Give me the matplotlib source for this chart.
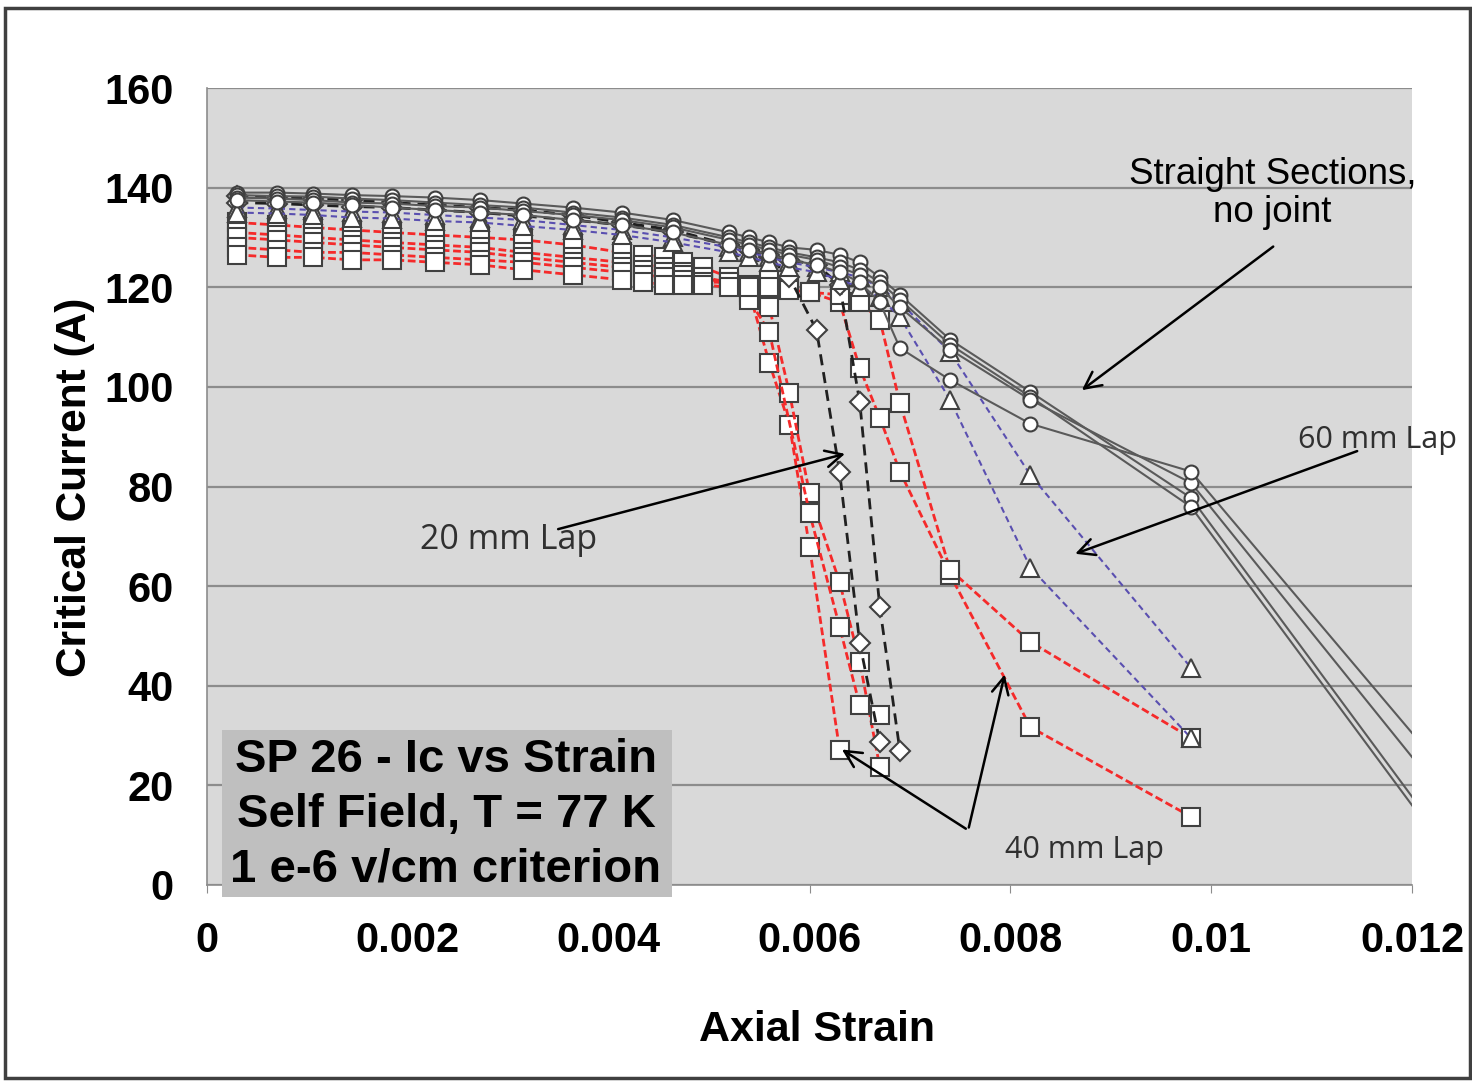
import numpy as np
import matplotlib.pyplot as plt
from matplotlib.patches import Rectangle

plt.rcParams['font.family'] = ['Liberation Sans', 'DejaVu Sans']

# strain grids (axial strain) for each group of samples
strain_straight = [0.0003, 0.0007, 0.00106, 0.00144, 0.00184, 0.00227, 0.00272, 0.00315,
                   0.00364, 0.00413, 0.00464, 0.0052, 0.0054, 0.0056, 0.0058, 0.00607,
                   0.0063, 0.0065, 0.0067, 0.0069, 0.0074, 0.0082, 0.0098, 0.0125]
strain_lap = [0.0003, 0.0007, 0.00106, 0.00144, 0.00184, 0.00227, 0.00272, 0.00315,
              0.00364, 0.00413, 0.00434, 0.00455, 0.00474, 0.00494, 0.0052, 0.0054,
              0.0056, 0.0058, 0.0060, 0.0063, 0.0065, 0.0067, 0.0069, 0.0074, 0.0082, 0.0098]
nan = np.nan

# straight sections, no joint (critical current, A)
straight_1 = [139, 139, 138.8, 138.5, 138.3, 138, 137.5, 136.8, 136, 135, 133.5, 131, 130, 129,
              128, 127.5, 126.5, 125, 122, 118.5, 109.5, 99, 77.7, 4.1]
straight_2 = [138.5, 138.3, 138.2, 137.8, 137.5, 137, 136.5, 136, 135, 134, 132.5, 130, 129, 128,
              127, 126, 125, 123.5, 121, 117.5, 108.5, 98, 75.9, 2.4]
straight_3 = [138, 137.8, 137.5, 137, 136.8, 136.3, 136, 135.3, 134.5, 133.5, 132, 129.5, 128.5,
              127.5, 126.5, 125.5, 124, 122.5, 120, 116, 107.5, 97.4, 80.7, 13.2]
straight_4 = [137.5, 137.2, 137, 136.5, 136, 135.5, 135, 134.5, 133.5, 132.5, 131, 128.5, 127.5,
              126.5, 125.5, 124.5, 123, 121, 117, 107.8, 101.4, 92.6, 83, 18.6]

# 60 mm lap (uses straight grid up to 0.0098)
lap60_1 = [136, 135.8, 135.5, 135.2, 135, 134.5, 134, 133.5, 132.5, 131.5, 130, 128, 127, 126,
           125, 124, 123, 122, 120, 117, 107, 82.3, 43.6]
lap60_2 = [135, 134.8, 134.5, 134, 133.8, 133.3, 133, 132.3, 131.5, 130.5, 129, 127, 126, 125,
           124, 123, 121.5, 120, 118, 114, 97.4, 63.7, 29.5]

# 20 mm lap (straight grid)
lap20_1 = [138.3, 138, 137.8, 137.5, 137, 136.5, 136, 135.5, 134.5, 133, 131.5, 128.5, 127.5,
           126, 122, 111.4, 82.9, 48.6, 28.7]
lap20_2 = [137, 136.8, 136.5, 136.2, 136, 135.5, 135, 134.3, 133.5, 132.5, 131, 128.5, 127.5,
           126.5, 125.5, 124.5, 120.5, 97, 55.8, 27]

# 40 mm lap (lap grid)
lap40_1 = [133, 132.5, 132, 131.5, 131, 130.5, 130, 129.5, 128.5, 127, 126.5, 126, 125, 124,
           122, 119, 104.8, 92.4, 67.9, 27.1]
lap40_2 = [131, 130.5, 130, 129.5, 129, 128.5, 128, 127, 126, 125, 124.5, 124, 123, 122, 120.5,
           118.5, 116, 98.8, 78.7, 60.8, 44.8, 23.7]
lap40_3 = [130, 129.5, 129, 128.5, 128, 127.5, 127, 126, 125, 124, 123.5, 123, 122.5, 122, 121,
           117.5, 111, nan, 74.7, 51.8, 36.1, 34.1]
lap40_4 = [128, 127.5, 127, 127, 126.5, 126, 125.5, 125, 124, 123, 122.5, 122, 121.5, 121, 121,
           120.5, 121.5, 120, 119, 117, 103.8, 93.8, 83, 62.3, 31.7, 13.7]
lap40_5 = [126.5, 126, 126, 125.5, 125.5, 125, 124.5, 123.5, 122.5, 121.5, 121, 120.5, 120.5,
           120.5, 120, 120, 120, 119.5, 119, 118.5, 117, 113.5, 96.8, 63.3, 48.8, 29.5]

xticks = [0, 0.002, 0.004, 0.006, 0.008, 0.01, 0.012]
xtick_labels = ['0', '0.002', '0.004', '0.006', '0.008', '0.01', '0.012']
yticks = [0, 20, 40, 60, 80, 100, 120, 140, 160]


def plotSeries(ax, xs, ys, color, ls, lw, marker, ms, z):
    xs = np.array(xs[:len(ys)], dtype=float)
    ys = np.array(ys, dtype=float)
    ok = ~np.isnan(ys)
    line, = ax.plot(xs[ok], ys[ok], color=color, linewidth=lw, linestyle=ls,
                    marker=marker, markersize=ms, markerfacecolor='white',
                    markeredgecolor='#404040', markeredgewidth=1.5, zorder=z)
    return line


fig = plt.figure(figsize=(14.72, 10.81), dpi=100)
W, H = 1472.0, 1081.0
ax = fig.add_axes([207 / W, 1 - 885 / H, 1205 / W, 797 / H])
ax.set_facecolor('#d9d9d9')

for yv in lap40_1, lap40_2, lap40_3, lap40_4, lap40_5:
    l = plotSeries(ax, strain_lap, yv, '#f52a2a', '--', 2.0, 's', 12.5, 3)
    l.set_dashes((2.8, 1.3))
for yv in lap20_1, lap20_2:
    l = plotSeries(ax, strain_straight, yv, '#202020', '--', 2.0, 'D', 10, 4)
    l.set_dashes((4, 2.5))
for yv in lap60_1, lap60_2:
    l = plotSeries(ax, strain_straight, yv, '#5a4fb0', '--', 1.5, '^', 13, 5)
    l.set_dashes((3, 2))
for yv in straight_1, straight_2, straight_3, straight_4:
    plotSeries(ax, strain_straight, yv, '#5a5a5a', '-', 1.5, 'o', 10, 6)

ax.set_xlim(0, 0.012)
ax.set_ylim(0, 160)
ax.set_xticks(xticks)
ax.set_xticklabels(xtick_labels)
ax.set_yticks(yticks)
ax.grid(axis='y', color='#8c8c8c', linewidth=1.6, zorder=1)
ax.set_axisbelow(True)
for s in ['top', 'right']:
    ax.spines[s].set_visible(False)
ax.spines['left'].set_color('#8c8c8c')
ax.spines['bottom'].set_color('#8c8c8c')
ax.spines['left'].set_linewidth(1.2)
ax.spines['bottom'].set_linewidth(1.2)
ax.tick_params(axis='y', length=0, pad=24, labelsize=30)
ax.tick_params(axis='x', length=6, color='#8c8c8c', pad=20, labelsize=30)
for lab in ax.get_xticklabels() + ax.get_yticklabels():
    lab.set_fontweight('bold')

fig.text(75 / W, 1 - 487 / H, 'Critical Current (A)', rotation=90, ha='center', va='center',
         fontsize=30.5, fontweight='bold')
fig.text(817 / W, 1 - 1030 / H, 'Axial Strain', ha='center', va='center',
         fontsize=31, fontweight='bold')

# annotations
arrow = dict(arrowstyle='->', color='black', lw=1.8, mutation_scale=30)
ax.text(0.01061, 138.8, 'Straight Sections,\nno joint', ha='center', va='center',
        fontsize=26.5, linespacing=1.1, zorder=8)
ax.annotate('', xy=(0.00869, 99), xytext=(0.01064, 128.5), arrowprops=arrow, zorder=8)
ax.text(0.01166, 89.4, '60 mm Lap', ha='center', va='center', fontsize=22,
        family=['Open Sans', 'DejaVu Sans'], color='#303030', clip_on=False, zorder=8)
ax.annotate('', xy=(0.00862, 66.3), xytext=(0.01148, 87.3), arrowprops=arrow, zorder=8)
ax.text(0.0030, 69.3, '20 mm Lap', ha='center', va='center', fontsize=24.5,
        family=['Open Sans', 'DejaVu Sans'], color='#303030', zorder=8)
ax.annotate('', xy=(0.00638, 86.7), xytext=(0.00347, 71.3), arrowprops=arrow, zorder=8)
ax.text(0.00874, 7.0, '40 mm Lap', ha='center', va='center', fontsize=22,
        family=['Open Sans', 'DejaVu Sans'], color='#303030', zorder=8)
ax.annotate('', xy=(0.0063, 27.5), xytext=(0.00758, 11.0), arrowprops=arrow, zorder=8)
ax.annotate('', xy=(0.00795, 42.8), xytext=(0.00758, 11.0), arrowprops=arrow, zorder=8)

# info box
fig.patches.append(Rectangle((222 / W, 1 - 897 / H), 450 / W, 167 / H, transform=fig.transFigure,
                             facecolor='#bfbfbf', edgecolor='none', zorder=9))
for txt, yp in [('SP 26 - Ic vs Strain', 760), ('Self Field, T = 77 K', 815),
                ('1 e-6 v/cm criterion', 870)]:
    fig.text(446 / W, 1 - yp / H, txt, ha='center', va='center', fontsize=34,
             fontweight='bold', zorder=10)

# outer frame
fig.patches.append(Rectangle((5 / W, 3 / H), 1465 / W, 1070 / H, transform=fig.transFigure,
                             facecolor='none', edgecolor='#404040', linewidth=2.5, zorder=0))

fig.savefig('out.png', dpi=100)
